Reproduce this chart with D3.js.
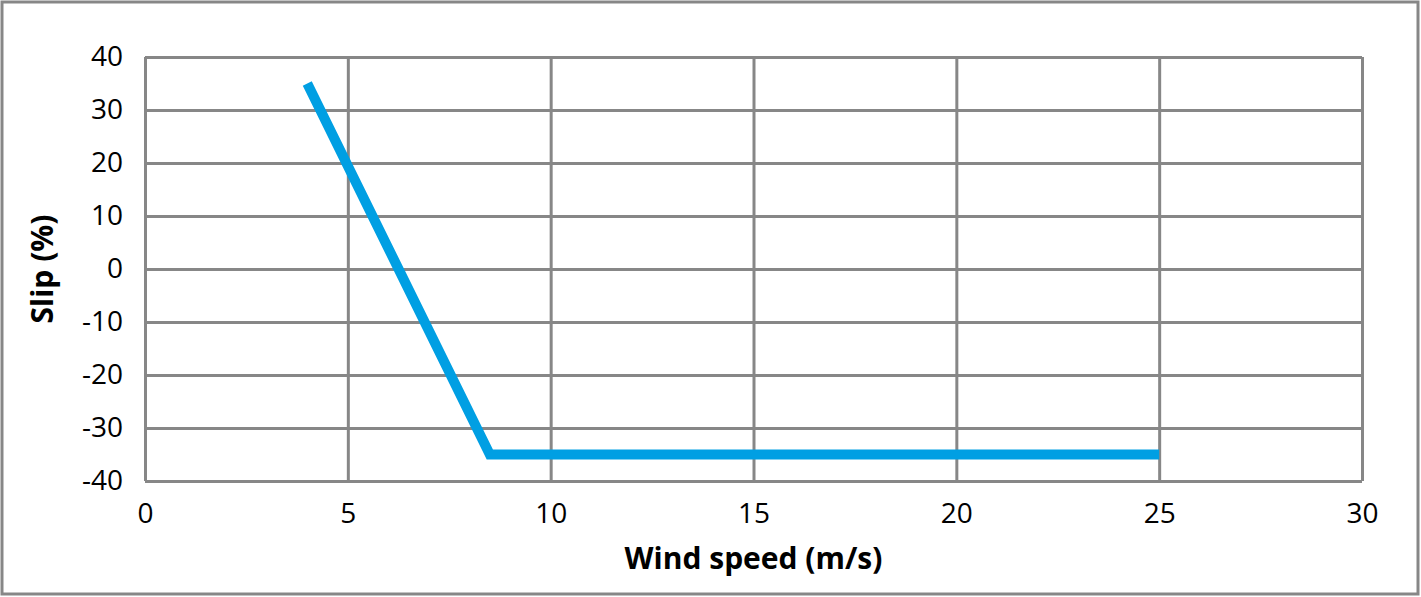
<!DOCTYPE html>
<html><head><meta charset="utf-8">
<script src="https://cdn.jsdelivr.net/npm/d3@7"></script>
<style>body{margin:0;background:#fff}svg{display:block}text{font-family:"Open Sans",sans-serif;fill:#000}</style>
</head><body>
<svg id="c" width="1421" height="597"></svg>
<script>
const windSpeed = [4, 8.5, 25];
const slip = [35, -35, -35];
const xTicks = [0, 5, 10, 15, 20, 25, 30];
const yTicks = [-40, -30, -20, -10, 0, 10, 20, 30, 40];
const xTitle = "Wind speed (m/s)";
const yTitle = "Slip (%)";

const svg = d3.select("#c");
const W = 1421, H = 597;
const m = {l:145, r:W-1362, t:57, b:H-481};
const x = d3.scaleLinear().domain([0,30]).range([m.l, W-m.r]);
const y = d3.scaleLinear().domain([-40,40]).range([H-m.b, m.t]);
const grey = "#878787";
const fmt = d => String(d);

svg.append("rect").attr("x",2).attr("y",2).attr("width",W-5).attr("height",H-5)
  .attr("fill","#fff").attr("stroke",grey).attr("stroke-width",3);

const gx = svg.append("g").attr("transform",`translate(0,${H-m.b})`)
  .call(d3.axisBottom(x).tickValues(xTicks).tickSize(-(H-m.b-m.t)).tickPadding(22).tickFormat(fmt));
const gy = svg.append("g").attr("transform",`translate(${m.l},0)`)
  .call(d3.axisLeft(y).tickValues(yTicks).tickSize(-(W-m.l-m.r)).tickPadding(22).tickFormat(fmt));
[gx,gy].forEach(g=>{
  g.select(".domain").remove();
  g.selectAll(".tick line").attr("stroke",grey).attr("stroke-width",3);
  g.selectAll(".tick text").attr("font-size",28).attr("font-family","'Open Sans',sans-serif").attr("fill","#000");
});
gx.selectAll(".tick text").attr("dy","0.71em");

svg.append("path").datum(windSpeed.map((d,i)=>[d,slip[i]]))
  .attr("fill","none").attr("stroke","#009FE3").attr("stroke-width",10)
  .attr("stroke-linejoin","miter").attr("stroke-linecap","butt")
  .attr("d", d3.line().x(d=>x(d[0])).y(d=>y(d[1])));

svg.append("text").attr("x",(m.l+W-m.r)/2).attr("y",569).attr("text-anchor","middle")
  .attr("font-size",30).attr("font-weight","bold").text(xTitle);
svg.append("text").attr("transform",`translate(53,${(m.t+H-m.b)/2}) rotate(-90)`).attr("text-anchor","middle")
  .attr("font-size",30).attr("font-weight","bold").text(yTitle);
</script>
</body></html>
